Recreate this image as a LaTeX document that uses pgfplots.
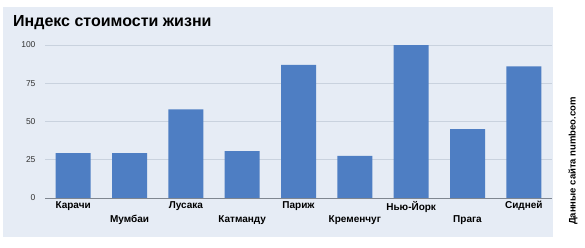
\documentclass[border=0pt]{standalone}
\usepackage{pgfplots}
\pgfplotsset{compat=1.18}
\usepackage{fontspec}
\setmainfont{Liberation Sans}
\definecolor{panel}{HTML}{E6ECF5}
\definecolor{barc}{HTML}{4E7EC3}
\definecolor{gridc}{HTML}{C9D2DE}
\definecolor{axc}{HTML}{7F8690}
\definecolor{tickc}{HTML}{333333}
\begin{document}
\begin{tikzpicture}
\path[use as bounding box] (0pt,0pt) rectangle (585pt,247pt);
\fill[panel] (3pt,10pt) rectangle (553pt,240pt);
\node[anchor=base west,inner sep=0pt,font=\bfseries\fontsize{16}{18}\selectfont] at (13pt,221pt) {Индекс стоимости жизни};
\begin{axis}[
  at={(45pt,49pt)}, anchor=south west,
  scale only axis, width=507pt, height=153pt,
  xmin=-0.5, xmax=8.5, ymin=0, ymax=100,
  axis line style={draw=none},
  ytick={0,25,50,75,100},
  ymajorgrids, grid style={color=gridc, line width=0.6pt},
  major tick length=0pt,
  /pgf/number format/assume math mode=true,
  yticklabel style={font=\fontsize{8.5}{9}\selectfont, text=tickc, xshift=-6pt},
  xtick={0,2,4,6,8},
  xticklabels={Карачи,Лусака,Париж,Нью-Йорк,Сидней},
  extra x ticks={1,3,5,7},
  extra x tick labels={Мумбаи,Катманду,Кременчуг,Прага},
  extra x tick style={tick label style={yshift=-14pt}},
  xticklabel style={font=\bfseries\fontsize{10}{11}\selectfont, anchor=north, inner sep=1pt, yshift=-2pt},
  clip=false,
]
\addplot[ybar, bar width=35pt, fill=barc, draw=none] coordinates {
(0,29.4) (1,29.4) (2,58) (3,30.7) (4,87) (5,27.5) (6,100) (7,45) (8,86)};
\draw[axc, line width=1pt] (axis cs:-0.5,0) -- (axis cs:8.5,0);
\end{axis}
\node[rotate=90,inner sep=0pt,font=\bfseries\fontsize{9.5}{11}\selectfont] at (573pt,86pt) {Данные сайта numbeo.com};
\end{tikzpicture}
\end{document}
